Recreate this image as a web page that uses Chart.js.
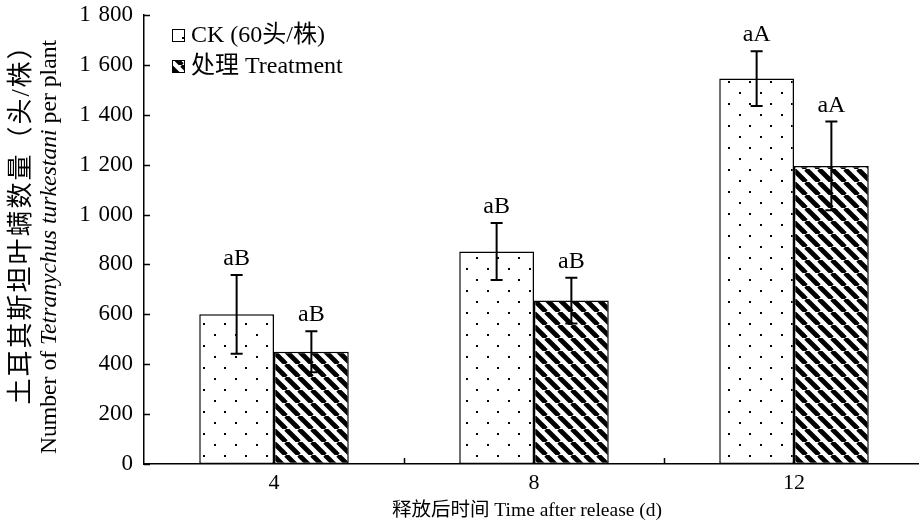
<!DOCTYPE html>
<html>
<head>
<meta charset="utf-8">
<script src="https://cdn.jsdelivr.net/npm/chart.js@4"></script>
<style>
  html, body { margin: 0; padding: 0; background: #fff; overflow: hidden; }
  #wrap { width: 919px; height: 528px; overflow: hidden; }
</style>
</head>
<body>
<div id="wrap"><canvas id="myChart" width="924" height="528"></canvas></div>
<script>
// data
const days = ['4', '8', '12'];
const ckMean = [600, 852, 1545];
const ckErr = [158, 114, 110];
const trtMean = [450, 655, 1195];
const trtErr = [82, 92, 178];
const ckSig = ['aB', 'aB', 'aA'];
const trtSig = ['aB', 'aB', 'aA'];
const yTicks = [0, 200, 400, 600, 800, 1000, 1200, 1400, 1600, 1800];

const serif = "'Liberation Serif', 'Times New Roman', 'Noto Sans CJK SC', serif";

// fill patterns
function dotPattern() {
    const c = document.createElement('canvas');
    c.width = 21; c.height = 22;
    const g = c.getContext('2d');
    g.fillStyle = '#fff';
    g.fillRect(0, 0, 21, 22);
    g.fillStyle = '#000';
    g.fillRect(4, 4, 2, 2);
    g.fillRect(14, 15, 2, 2);
    return g.createPattern(c, 'repeat');
}

function hatchPattern() {
    const p = 13;
    const c = document.createElement('canvas');
    c.width = p; c.height = p;
    const g = c.getContext('2d');
    g.fillStyle = '#fff';
    g.fillRect(0, 0, p, p);
    g.strokeStyle = '#000';
    g.lineWidth = 4.8;
    for (let k = -1; k <= 1; k++) {
        g.beginPath();
        g.moveTo(k * p, 0);
        g.lineTo(k * p + p, p);
        g.stroke();
    }
    return g.createPattern(c, 'repeat');
}

const dots = dotPattern();
const hatch = hatchPattern();

const errs = [ckErr, trtErr];
const sigs = [ckSig, trtSig];

// error bars, letters, inward ticks, titles, legend
const extras = {
    id: 'extras',
    afterDatasetsDraw(chart) {
        const ctx = chart.ctx;
        const y = chart.scales.y;
        ctx.save();
        ctx.strokeStyle = '#000';
        ctx.fillStyle = '#000';
        ctx.lineWidth = 2;
        ctx.font = '24px ' + serif;
        ctx.textAlign = 'center';
        ctx.textBaseline = 'alphabetic';
        chart.data.datasets.forEach((ds, di) => {
            const meta = chart.getDatasetMeta(di);
            meta.data.forEach((bar, i) => {
                const v = ds.data[i];
                const top = y.getPixelForValue(v + errs[di][i]);
                const bot = y.getPixelForValue(v - errs[di][i]);
                const x = bar.x;
                ctx.beginPath();
                ctx.moveTo(x, top); ctx.lineTo(x, bot);
                ctx.moveTo(x - 6, top); ctx.lineTo(x + 6, top);
                ctx.moveTo(x - 6, bot); ctx.lineTo(x + 6, bot);
                ctx.stroke();
                ctx.fillText(sigs[di][i], x, top - 10);
            });
        });
        ctx.restore();
    },
    afterDraw(chart) {
        const ctx = chart.ctx;
        const area = chart.chartArea;
        const y = chart.scales.y;
        ctx.save();
        ctx.strokeStyle = '#000';
        ctx.lineWidth = 1.5;

        // inward ticks
        ctx.beginPath();
        yTicks.forEach(t => {
            const py = Math.round(y.getPixelForValue(t)) + 0.5;
            ctx.moveTo(area.left, py);
            ctx.lineTo(area.left + 6, py);
        });
        const cw = (area.right - area.left) / days.length;
        for (let k = 1; k < days.length; k++) {
            const px = Math.round(area.left + cw * k) + 0.5;
            ctx.moveTo(px, area.bottom);
            ctx.lineTo(px, area.bottom - 6);
        }
        ctx.stroke();

        // y title (two lines, rotated)
        ctx.fillStyle = '#000';
        ctx.textBaseline = 'middle';
        ctx.save();
        ctx.translate(22, 218);
        ctx.rotate(-Math.PI / 2);
        ctx.font = '26px ' + serif;
        ctx.letterSpacing = '2px';
        ctx.textAlign = 'center';
        ctx.fillText('土耳其斯坦叶螨数量（头/株）', 0, 0);
        ctx.letterSpacing = '0px';
        ctx.restore();

        const parts = [
            ['Number of ', false],
            ['Tetranychus turkestani', true],
            [' per plant', false]
        ];
        ctx.save();
        ctx.translate(50, 247);
        ctx.rotate(-Math.PI / 2);
        ctx.textAlign = 'left';
        let total = 0;
        parts.forEach(p => {
            ctx.font = (p[1] ? 'italic ' : '') + '23.7px ' + serif;
            total += ctx.measureText(p[0]).width;
        });
        let cx = -total / 2;
        parts.forEach(p => {
            ctx.font = (p[1] ? 'italic ' : '') + '23.7px ' + serif;
            ctx.fillText(p[0], cx, 0);
            cx += ctx.measureText(p[0]).width;
        });
        ctx.restore();

        // x title
        ctx.font = '19.5px ' + serif;
        ctx.textAlign = 'center';
        ctx.fillText('释放后时间 Time after release (d)', 527, 511);

        // legend
        const fills = [dots, hatch];
        ctx.textAlign = 'left';
        ctx.font = '24px ' + serif;
        chart.data.datasets.forEach((ds, di) => {
            const by = 29 + di * 31;
            ctx.fillStyle = fills[di];
            ctx.fillRect(172, by, 13, 13);
            ctx.lineWidth = 1;
            ctx.strokeRect(172.5, by + 0.5, 12, 12);
            ctx.fillStyle = '#000';
            ctx.fillText(ds.label, 191, by + 7);
        });
        ctx.restore();
    }
};

const ctx = document.getElementById('myChart').getContext('2d');
const chart = new Chart(ctx, {
    type: 'bar',
    data: {
        labels: days,
        datasets: [{
            label: 'CK (60头/株)',
            data: ckMean,
            backgroundColor: dots,
            borderColor: '#000',
            borderWidth: 1.5,
            borderSkipped: false,
            categoryPercentage: 0.575,
            barPercentage: 1
        }, {
            label: '处理 Treatment',
            data: trtMean,
            backgroundColor: hatch,
            borderColor: '#000',
            borderWidth: 1.5,
            borderSkipped: false,
            categoryPercentage: 0.575,
            barPercentage: 1
        }]
    },
    options: {
        responsive: false,
        animation: false,
        layout: { padding: { top: 15, right: 0, left: 0, bottom: 0 } },
        plugins: {
            legend: { display: false },
            tooltip: { enabled: false }
        },
        scales: {
            x: {
                grid: { display: false, drawTicks: false },
                border: { display: true, color: '#000', width: 1.5 },
                ticks: { color: '#000', font: { family: serif, size: 22 }, padding: 6 },
                afterFit(scale) {
                    scale.height = 64;
                    scale.paddingLeft = 0;
                    scale.paddingRight = 0;
                }
            },
            y: {
                min: 0,
                max: 1800,
                afterBuildTicks(scale) { scale.ticks = yTicks.map(v => ({ value: v })); },
                grid: { display: false, drawTicks: false },
                border: { display: true, color: '#000', width: 1.5 },
                ticks: {
                    color: '#000',
                    font: { family: serif, size: 23 },
                    padding: 11,
                    callback: v => v >= 1000 ? Math.floor(v / 1000) + ' \u200A' + String(v % 1000).padStart(3, '0') : String(v)
                },
                afterFit(scale) {
                    scale.width = 144;
                    scale.paddingTop = 0;
                    scale.paddingBottom = 0;
                }
            }
        }
    },
    plugins: [extras]
});
</script>
</body>
</html>
